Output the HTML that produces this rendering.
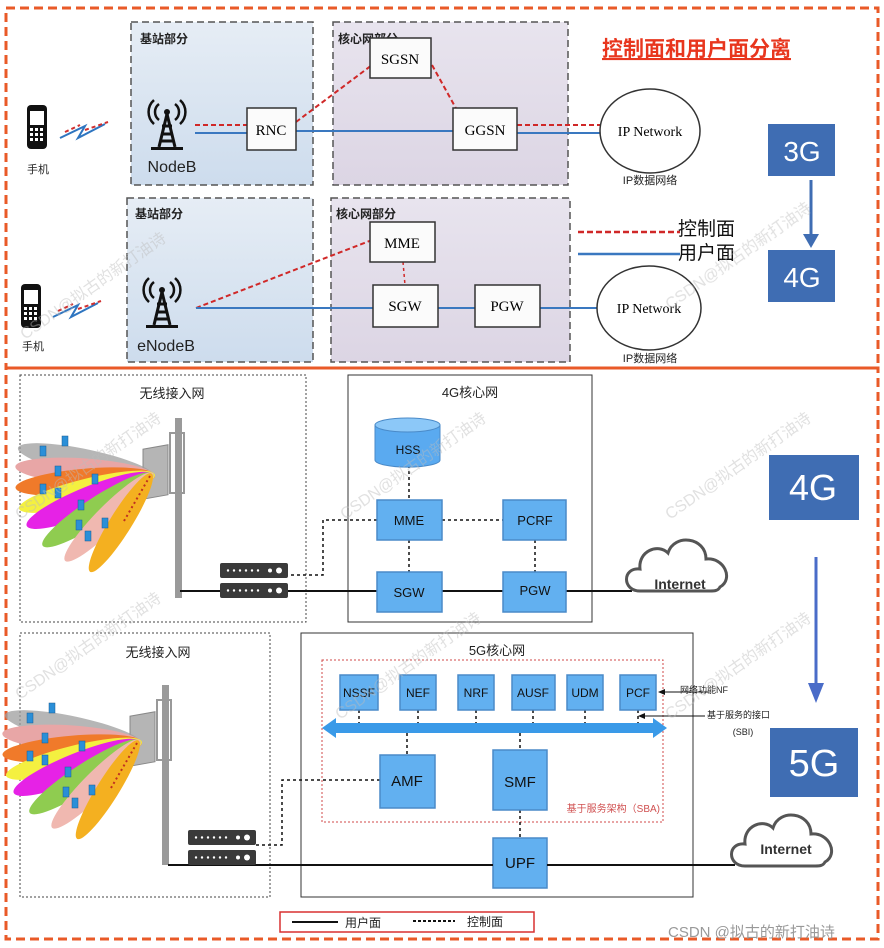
<!DOCTYPE html>
<html><head><meta charset="utf-8"><style>
html,body{margin:0;padding:0;background:#fff}
svg{display:block}
text{font-family:"Liberation Sans","Noto Sans CJK SC",sans-serif}
.serif{font-family:"Liberation Serif","Noto Serif CJK SC",serif}
</style></head><body>
<svg width="884" height="948" viewBox="0 0 884 948" xmlns="http://www.w3.org/2000/svg">
<defs>
<linearGradient id="gb" x1="0" y1="0" x2="0" y2="1"><stop offset="0" stop-color="#e6edf5"/><stop offset="1" stop-color="#cddced"/></linearGradient>
<linearGradient id="gp" x1="0" y1="0" x2="0" y2="1"><stop offset="0" stop-color="#e8e4ee"/><stop offset="1" stop-color="#dcd5e4"/></linearGradient>
<g id="fan">
 <ellipse cx="-65" cy="0" rx="70" ry="13" fill="#9e9e9e" opacity=".75" transform="rotate(12)"/>
 <ellipse cx="-65" cy="0" rx="70" ry="13" fill="#e8a6a6" transform="rotate(4)"/>
 <ellipse cx="-65" cy="0" rx="70" ry="13" fill="#f07a2a" transform="rotate(-5)"/>
 <ellipse cx="-65" cy="0" rx="70" ry="13" fill="#f4f040" transform="rotate(-14)"/>
 <ellipse cx="-65" cy="0" rx="68" ry="14" fill="#e622e6" transform="rotate(-22)"/>
 <ellipse cx="-62" cy="0" rx="66" ry="13" fill="#8fcc50" transform="rotate(-33)"/>
 <ellipse cx="-58" cy="0" rx="62" ry="12" fill="#f0b8b0" transform="rotate(-45)"/>
 <ellipse cx="-55" cy="0" rx="58" ry="11" fill="#f4b020" transform="rotate(-58)"/>
 <line x1="0" y1="0" x2="-55" y2="0" stroke="#c03020" stroke-width="2" stroke-dasharray="2,3" transform="rotate(-60)"/>
 <g fill="#2a8fd8" stroke="#1a5a90" stroke-width=".5">
  <rect x="-88" y="-40" width="6" height="10"/><rect x="-110" y="-30" width="6" height="10"/>
  <rect x="-95" y="-10" width="6" height="10"/><rect x="-58" y="-2" width="6" height="10"/>
  <rect x="-110" y="8" width="6" height="10"/><rect x="-95" y="12" width="6" height="10"/>
  <rect x="-72" y="24" width="6" height="10"/><rect x="-74" y="44" width="6" height="10"/>
  <rect x="-65" y="55" width="6" height="10"/><rect x="-48" y="42" width="6" height="10"/>
 </g>
</g>
<g id="tower">
 <rect x="-3" y="-60" width="7" height="180" fill="#9a9a9a"/>
 <rect x="-35" y="-35" width="25" height="50" fill="#b5b5b5" stroke="#888" transform="skewY(-10)"/>
 <rect x="-8" y="-45" width="14" height="60" fill="none" stroke="#999" stroke-width="2"/>
</g>
<g id="router">
 <rect x="0" y="0" width="68" height="15" rx="2" fill="#3a3a3a"/>
 <g fill="#fff"><circle cx="8" cy="7.5" r="1.2"/><circle cx="14" cy="7.5" r="1.2"/><circle cx="20" cy="7.5" r="1.2"/><circle cx="26" cy="7.5" r="1.2"/><circle cx="32" cy="7.5" r="1.2"/><circle cx="38" cy="7.5" r="1.2"/><circle cx="50" cy="7.5" r="2"/><circle cx="59" cy="7.5" r="3"/></g>
</g>
<g id="ant">
 <path d="M-8 -18 a10 10 0 0 0 0 16 M8 -18 a10 10 0 0 1 0 16 M-13 -22 a16 16 0 0 0 0 24 M13 -22 a16 16 0 0 1 0 24" fill="none" stroke="#111" stroke-width="2.5"/>
 <circle cx="0" cy="-10" r="3" fill="#111"/>
 <path d="M0 -8 L-8 25 M0 -8 L8 25 M-5 4 H5 M-6 12 H6 M-7 19 H7" stroke="#111" stroke-width="3" fill="none"/>
 <rect x="-16" y="25" width="32" height="3" fill="#111"/>
</g>
<g id="phone">
 <rect x="-10" y="-22" width="20" height="44" rx="4" fill="#111"/>
 <rect x="-7" y="-16" width="14" height="14" fill="#fff"/>
 <g fill="#fff"><rect x="-7" y="1" width="3" height="3"/><rect x="-2" y="1" width="3" height="3"/><rect x="3" y="1" width="3" height="3"/><rect x="-7" y="6" width="3" height="3"/><rect x="-2" y="6" width="3" height="3"/><rect x="3" y="6" width="3" height="3"/><rect x="-7" y="11" width="3" height="3"/><rect x="-2" y="11" width="3" height="3"/><rect x="3" y="11" width="3" height="3"/></g>
</g>
<g id="zig">
 <path d="M0 10 L25 -2 L18 10 L45 -4" fill="none" stroke="#2e75c0" stroke-width="2"/>
 <path d="M5 4 L20 -3 M25 2 L48 -6" fill="none" stroke="#d03030" stroke-width="2" stroke-dasharray="4,3"/>
</g>
<g id="cloud">
 <path d="M-40 18 C-58 18 -58 -6 -40 -4 C-42 -22 -22 -30 -12 -20 C-6 -40 26 -36 26 -14 C44 -16 54 6 40 14 C38 18 34 18 30 18 Z" fill="#fff" stroke="#555" stroke-width="3"/>
</g>
</defs>

<rect x="6" y="8" width="872" height="360" fill="none" stroke="#e95a28" stroke-width="3" stroke-dasharray="9,5"/>
<rect x="6" y="368" width="872" height="571" fill="none" stroke="#e95a28" stroke-width="3" stroke-dasharray="9,5"/>

<rect x="131" y="22" width="182" height="163" fill="url(#gb)" stroke="#555" stroke-width="1.5" stroke-dasharray="7,4"/>
<rect x="333" y="22" width="235" height="163" fill="url(#gp)" stroke="#555" stroke-width="1.5" stroke-dasharray="7,4"/>
<text x="140" y="43" font-size="12" font-weight="bold" fill="#222">基站部分</text>
<text x="338" y="43" font-size="12" font-weight="bold" fill="#222">核心网部分</text>
<text x="602" y="56" font-size="21" font-weight="bold" fill="#e8361e" text-decoration="underline">控制面和用户面分离</text>

<line x1="195" y1="125" x2="247" y2="125" stroke="#d02828" stroke-width="2" stroke-dasharray="5,3"/>
<line x1="195" y1="133" x2="247" y2="133" stroke="#3a78c0" stroke-width="2"/>
<line x1="296" y1="131" x2="453" y2="131" stroke="#3a78c0" stroke-width="2"/>
<line x1="296" y1="122" x2="372" y2="65" stroke="#d02828" stroke-width="2" stroke-dasharray="5,3"/>
<line x1="432" y1="65" x2="458" y2="112" stroke="#d02828" stroke-width="2" stroke-dasharray="5,3"/>
<line x1="517" y1="125" x2="600" y2="125" stroke="#d02828" stroke-width="2" stroke-dasharray="5,3"/>
<line x1="517" y1="133" x2="600" y2="133" stroke="#3a78c0" stroke-width="2"/>
<rect x="370" y="38" width="61" height="40" fill="#fbfbfb" stroke="#333" stroke-width="1.5"/>
<text x="400" y="64" class="serif" font-size="15" text-anchor="middle">SGSN</text>
<rect x="247" y="108" width="49" height="42" fill="#fbfbfb" stroke="#333" stroke-width="1.5"/>
<text x="271" y="135" class="serif" font-size="15" text-anchor="middle">RNC</text>
<rect x="453" y="108" width="64" height="42" fill="#fbfbfb" stroke="#333" stroke-width="1.5"/>
<text x="485" y="135" class="serif" font-size="15" text-anchor="middle">GGSN</text>
<ellipse cx="650" cy="131" rx="50" ry="42" fill="#fff" stroke="#333" stroke-width="1.5"/>
<text x="650" y="136" class="serif" font-size="14" text-anchor="middle">IP Network</text>
<text x="650" y="184" font-size="11" text-anchor="middle" fill="#222">IP数据网络</text>
<use href="#ant" x="167" y="122"/>
<text x="172" y="172" font-size="16" text-anchor="middle" fill="#222">NodeB</text>
<use href="#phone" x="37" y="127"/>
<text x="38" y="173" font-size="11" text-anchor="middle" fill="#222">手机</text>
<use href="#zig" x="60" y="128"/>

<rect x="127" y="198" width="186" height="164" fill="url(#gb)" stroke="#555" stroke-width="1.5" stroke-dasharray="7,4"/>
<rect x="331" y="198" width="239" height="164" fill="url(#gp)" stroke="#555" stroke-width="1.5" stroke-dasharray="7,4"/>
<text x="135" y="218" font-size="12" font-weight="bold" fill="#222">基站部分</text>
<text x="336" y="218" font-size="12" font-weight="bold" fill="#222">核心网部分</text>
<line x1="196" y1="308" x2="372" y2="240" stroke="#d02828" stroke-width="2" stroke-dasharray="5,3"/>
<line x1="403" y1="262" x2="405" y2="285" stroke="#d02828" stroke-width="1.5" stroke-dasharray="3,3"/>
<line x1="196" y1="308" x2="373" y2="308" stroke="#3a78c0" stroke-width="2"/>
<line x1="438" y1="308" x2="475" y2="308" stroke="#3a78c0" stroke-width="2"/>
<line x1="540" y1="308" x2="598" y2="308" stroke="#3a78c0" stroke-width="2"/>
<rect x="370" y="222" width="65" height="40" fill="#fbfbfb" stroke="#333" stroke-width="1.5"/>
<text x="402" y="248" class="serif" font-size="15" text-anchor="middle">MME</text>
<rect x="373" y="285" width="65" height="42" fill="#fbfbfb" stroke="#333" stroke-width="1.5"/>
<text x="405" y="311" class="serif" font-size="15" text-anchor="middle">SGW</text>
<rect x="475" y="285" width="65" height="42" fill="#fbfbfb" stroke="#333" stroke-width="1.5"/>
<text x="507" y="311" class="serif" font-size="15" text-anchor="middle">PGW</text>
<ellipse cx="649" cy="308" rx="52" ry="42" fill="#fff" stroke="#333" stroke-width="1.5"/>
<text x="649" y="313" class="serif" font-size="14" text-anchor="middle">IP Network</text>
<text x="650" y="362" font-size="11" text-anchor="middle" fill="#222">IP数据网络</text>
<use href="#ant" x="162" y="300"/>
<text x="166" y="351" font-size="16" text-anchor="middle" fill="#222">eNodeB</text>
<use href="#phone" x="31" y="306"/>
<text x="33" y="350" font-size="11" text-anchor="middle" fill="#222">手机</text>
<use href="#zig" x="53" y="307"/>
<line x1="578" y1="232" x2="680" y2="232" stroke="#d02828" stroke-width="2.5" stroke-dasharray="6,3"/>
<line x1="578" y1="254" x2="680" y2="254" stroke="#3a78c0" stroke-width="2.5"/>
<text x="678" y="235" font-size="19" fill="#111">控制面</text>
<text x="678" y="259" font-size="19" fill="#111">用户面</text>

<rect x="768" y="124" width="67" height="52" fill="#3f6db3"/>
<text x="802" y="161" font-size="28" fill="#fff" text-anchor="middle">3G</text>
<line x1="811" y1="180" x2="811" y2="238" stroke="#3f6db3" stroke-width="3"/>
<path d="M803 234 L819 234 L811 248 Z" fill="#3f6db3"/>
<rect x="768" y="250" width="67" height="52" fill="#3f6db3"/>
<text x="802" y="287" font-size="28" fill="#fff" text-anchor="middle">4G</text>

<rect x="20" y="375" width="286" height="247" fill="none" stroke="#444" stroke-width="1" stroke-dasharray="2,2"/>
<text x="172" y="398" font-size="13" text-anchor="middle" fill="#222">无线接入网</text>
<use href="#tower" x="178" y="478"/>
<use href="#fan" x="150" y="476"/>
<rect x="348" y="375" width="244" height="247" fill="none" stroke="#333" stroke-width="1"/>
<text x="470" y="397" font-size="13" text-anchor="middle" fill="#222">4G核心网</text>
<g stroke="#111" stroke-width="1.5" stroke-dasharray="3,3" fill="none">
 <line x1="409" y1="465" x2="409" y2="500"/>
 <line x1="409" y1="540" x2="409" y2="572"/>
 <line x1="442" y1="520" x2="503" y2="520"/>
 <line x1="535" y1="540" x2="535" y2="572"/>
 <polyline points="377,520 323,520 323,575 288,575"/>
</g>
<line x1="180" y1="591" x2="377" y2="591" stroke="#111" stroke-width="2"/>
<line x1="442" y1="591" x2="503" y2="591" stroke="#111" stroke-width="2"/>
<line x1="566" y1="591" x2="632" y2="591" stroke="#111" stroke-width="2"/>
<use href="#router" x="220" y="563"/>
<use href="#router" x="220" y="583"/>
<path d="M375 425 v35 a32 7 0 0 0 65 0 v-35" fill="#5aaaf0" stroke="#4a8ac8"/>
<ellipse cx="407.5" cy="425" rx="32.5" ry="7" fill="#8cc8f8" stroke="#4a8ac8"/>
<text x="408" y="454" font-size="12" text-anchor="middle" fill="#111">HSS</text>
<g fill="#62b0f0" stroke="#4a8ac8" stroke-width="1.5">
 <rect x="377" y="500" width="65" height="40"/><rect x="503" y="500" width="63" height="40"/>
 <rect x="377" y="572" width="65" height="40"/><rect x="503" y="572" width="63" height="40"/>
</g>
<g font-size="13" text-anchor="middle" fill="#111">
 <text x="409" y="525">MME</text><text x="535" y="525">PCRF</text>
 <text x="409" y="597">SGW</text><text x="535" y="595">PGW</text>
</g>
<use href="#cloud" x="680" y="573"/>
<text x="680" y="589" font-size="14" font-weight="bold" text-anchor="middle" fill="#333">Internet</text>

<rect x="769" y="455" width="90" height="65" fill="#3f6db3"/>
<text x="813" y="500" font-size="36" fill="#fff" text-anchor="middle">4G</text>
<line x1="816" y1="557" x2="816" y2="685" stroke="#4a6cc8" stroke-width="3"/>
<path d="M808 683 L824 683 L816 703 Z" fill="#4a6cc8"/>
<rect x="770" y="728" width="88" height="69" fill="#3f6db3"/>
<text x="814" y="776" font-size="38" fill="#fff" text-anchor="middle">5G</text>

<rect x="20" y="633" width="250" height="264" fill="none" stroke="#444" stroke-width="1" stroke-dasharray="2,2"/>
<text x="158" y="657" font-size="13" text-anchor="middle" fill="#222">无线接入网</text>
<use href="#tower" x="165" y="745"/>
<use href="#fan" x="137" y="743"/>
<rect x="301" y="633" width="392" height="264" fill="none" stroke="#333" stroke-width="1"/>
<text x="497" y="655" font-size="13" text-anchor="middle" fill="#222">5G核心网</text>
<rect x="322" y="660" width="341" height="162" fill="none" stroke="#d04848" stroke-width="1" stroke-dasharray="2,2"/>
<text x="660" y="812" font-size="10" text-anchor="end" fill="#d05050">基于服务架构（SBA)</text>
<g stroke="#111" stroke-width="1.5" stroke-dasharray="3,3" fill="none">
 <line x1="359" y1="710" x2="359" y2="724"/><line x1="418" y1="710" x2="418" y2="724"/>
 <line x1="476" y1="710" x2="476" y2="724"/><line x1="533" y1="710" x2="533" y2="724"/>
 <line x1="585" y1="710" x2="585" y2="724"/><line x1="638" y1="710" x2="638" y2="724"/>
 <line x1="407" y1="733" x2="407" y2="755"/><line x1="520" y1="733" x2="520" y2="750"/>
 <line x1="520" y1="810" x2="520" y2="838"/>
 <polyline points="380,780 282,780 282,845 256,845"/>
</g>
<path d="M322 728 L336 718 L336 723 L653 723 L653 718 L667 728 L653 738 L653 733 L336 733 L336 738 Z" fill="#3a9ae8"/>
<g fill="#62b0f0" stroke="#4a8ac8" stroke-width="1.5">
 <rect x="340" y="675" width="38" height="35"/><rect x="400" y="675" width="36" height="35"/>
 <rect x="458" y="675" width="36" height="35"/><rect x="512" y="675" width="43" height="35"/>
 <rect x="567" y="675" width="36" height="35"/><rect x="620" y="675" width="36" height="35"/>
 <rect x="380" y="755" width="55" height="53"/><rect x="493" y="750" width="54" height="60"/>
 <rect x="493" y="838" width="54" height="50"/>
</g>
<g font-size="12" text-anchor="middle" fill="#111">
 <text x="359" y="697">NSSF</text><text x="418" y="697">NEF</text><text x="476" y="697">NRF</text>
 <text x="533" y="697">AUSF</text><text x="585" y="697">UDM</text><text x="638" y="697">PCF</text>
 <text x="407" y="786" font-size="15">AMF</text><text x="520" y="787" font-size="15">SMF</text>
 <text x="520" y="868" font-size="15">UPF</text>
</g>
<line x1="168" y1="865" x2="493" y2="865" stroke="#111" stroke-width="2"/>
<line x1="547" y1="865" x2="735" y2="865" stroke="#111" stroke-width="2"/>
<use href="#router" x="188" y="830"/>
<use href="#router" x="188" y="850"/>
<use href="#cloud" x="785" y="848"/>
<text x="786" y="854" font-size="14" font-weight="bold" text-anchor="middle" fill="#333">Internet</text>
<line x1="662" y1="692" x2="710" y2="692" stroke="#111" stroke-width="1"/>
<path d="M658 692 L665 689 L665 695 Z" fill="#111"/>
<text x="680" y="693" font-size="9" fill="#222">网络功能NF</text>
<line x1="640" y1="716" x2="705" y2="716" stroke="#111" stroke-width="1"/>
<path d="M638 716 L645 713 L645 719 Z" fill="#111"/>
<text x="707" y="718" font-size="9" fill="#222">基于服务的接口</text>
<text x="743" y="735" font-size="9" text-anchor="middle" fill="#222">(SBI)</text>

<rect x="280" y="912" width="254" height="20" fill="#fff" stroke="#d83030" stroke-width="1.5"/>
<line x1="292" y1="922" x2="338" y2="922" stroke="#111" stroke-width="2"/>
<text x="345" y="927" font-size="12" fill="#222">用户面</text>
<line x1="413" y1="921" x2="455" y2="921" stroke="#111" stroke-width="2" stroke-dasharray="3,2"/>
<text x="467" y="926" font-size="12" fill="#222">控制面</text>
<text x="668" y="937" font-size="15" fill="#999">CSDN @拟古的新打油诗</text>

<g font-size="16" fill="#bbb" opacity=".45">
 <text transform="translate(25,340) rotate(-35)">CSDN@拟古的新打油诗</text>
 <text transform="translate(345,520) rotate(-35)">CSDN@拟古的新打油诗</text>
 <text transform="translate(670,520) rotate(-35)">CSDN@拟古的新打油诗</text>
 <text transform="translate(20,520) rotate(-35)">CSDN@拟古的新打油诗</text>
 <text transform="translate(20,700) rotate(-35)">CSDN@拟古的新打油诗</text>
 <text transform="translate(340,720) rotate(-35)">CSDN@拟古的新打油诗</text>
 <text transform="translate(670,720) rotate(-35)">CSDN@拟古的新打油诗</text>
 <text transform="translate(670,310) rotate(-35)">CSDN@拟古的新打油诗</text>
</g>
</svg>
</body></html>
